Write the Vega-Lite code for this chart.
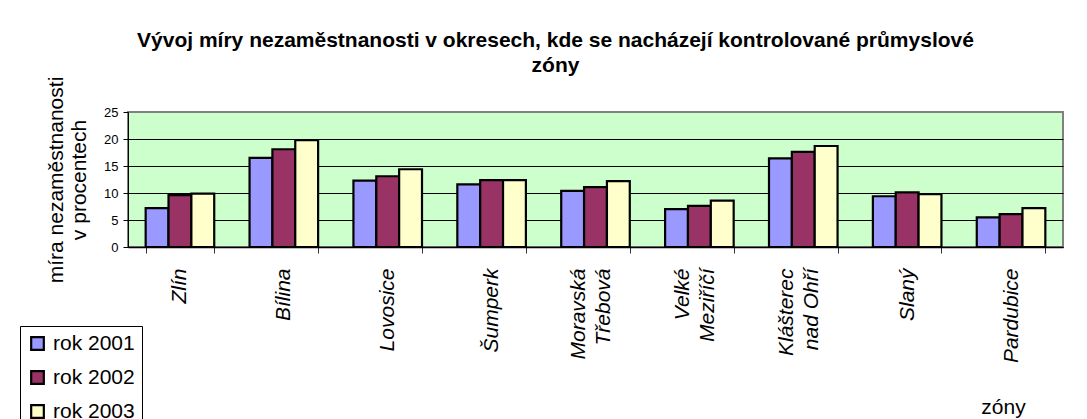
{
  "$schema": "https://vega.github.io/schema/vega-lite/v6.json",
  "autosize": "none",
  "width": 935,
  "height": 135,
  "padding": {"left": 128, "top": 112, "right": 24, "bottom": 172},
  "background": "white",
  "config": {
    "font": "Liberation Sans",
    "view": {"fill": "#CCFFCC", "stroke": "#808080", "strokeWidth": 2}
  },
  "title": {
    "text": ["Vývoj míry nezaměstnanosti v okresech, kde se nacházejí kontrolované průmyslové", "zóny"],
    "font": "Liberation Sans",
    "fontSize": 21,
    "fontWeight": "bold",
    "color": "black",
    "lineHeight": 25,
    "anchor": "middle",
    "dx": -40,
    "offset": 0
  },
  "data": {
    "values": [
      {"zone": "Zlín", "rok": "rok 2001", "value": 7.2},
      {"zone": "Zlín", "rok": "rok 2002", "value": 9.6},
      {"zone": "Zlín", "rok": "rok 2003", "value": 9.9},
      {"zone": "Bílina", "rok": "rok 2001", "value": 16.5},
      {"zone": "Bílina", "rok": "rok 2002", "value": 18.1},
      {"zone": "Bílina", "rok": "rok 2003", "value": 19.8},
      {"zone": "Lovosice", "rok": "rok 2001", "value": 12.3},
      {"zone": "Lovosice", "rok": "rok 2002", "value": 13.1},
      {"zone": "Lovosice", "rok": "rok 2003", "value": 14.4},
      {"zone": "Šumperk", "rok": "rok 2001", "value": 11.6},
      {"zone": "Šumperk", "rok": "rok 2002", "value": 12.4},
      {"zone": "Šumperk", "rok": "rok 2003", "value": 12.4},
      {"zone": "Moravská Třebová", "rok": "rok 2001", "value": 10.4},
      {"zone": "Moravská Třebová", "rok": "rok 2002", "value": 11.1},
      {"zone": "Moravská Třebová", "rok": "rok 2003", "value": 12.2},
      {"zone": "Velké Meziříčí", "rok": "rok 2001", "value": 7.0},
      {"zone": "Velké Meziříčí", "rok": "rok 2002", "value": 7.6},
      {"zone": "Velké Meziříčí", "rok": "rok 2003", "value": 8.6},
      {"zone": "Klášterec nad Ohří", "rok": "rok 2001", "value": 16.4},
      {"zone": "Klášterec nad Ohří", "rok": "rok 2002", "value": 17.6},
      {"zone": "Klášterec nad Ohří", "rok": "rok 2003", "value": 18.7},
      {"zone": "Slaný", "rok": "rok 2001", "value": 9.4},
      {"zone": "Slaný", "rok": "rok 2002", "value": 10.1},
      {"zone": "Slaný", "rok": "rok 2003", "value": 9.8},
      {"zone": "Pardubice", "rok": "rok 2001", "value": 5.5},
      {"zone": "Pardubice", "rok": "rok 2002", "value": 6.1},
      {"zone": "Pardubice", "rok": "rok 2003", "value": 7.2}
    ]
  },
  "mark": {"type": "bar", "stroke": "black", "strokeWidth": 2.2},
  "encoding": {
    "x": {
      "field": "zone",
      "type": "nominal",
      "sort": null,
      "scale": {"paddingInner": 0.34, "paddingOuter": 0.17},
      "axis": {
        "title": "zóny",
        "titleFontSize": 21,
        "titleFontWeight": "normal",
        "titleColor": "black",
        "titleX": 875,
        "titleY": 160,
        "titleAlign": "center",
        "titleBaseline": "middle",
        "labelAngle": -90,
        "labelFontSize": 21,
        "labelFontStyle": "italic",
        "labelColor": "black",
        "labelPadding": 15,
        "labelLineHeight": 25,
        "labelOverlap": false,
        "labelBound": false,
        "labelLimit": 300,
        "labelOffset": {"condition": {"test": "indexof(datum.label, ' ') >= 0", "value": -17}, "value": 0},
        "labelExpr": "datum.label == 'Klášterec nad Ohří' ? ['Klášterec', 'nad Ohří'] : split(datum.label, ' ')",
        "tickBand": "extent",
        "tickSize": 6,
        "tickColor": "#333333",
        "domainColor": "black",
        "domainWidth": 1.5
      }
    },
    "xOffset": {"field": "rok", "type": "nominal", "scale": {"paddingInner": 0, "paddingOuter": 0}},
    "y": {
      "field": "value",
      "type": "quantitative",
      "scale": {"domain": [0, 25]},
      "axis": {
        "values": [0, 5, 10, 15, 20, 25],
        "title": ["míra nezaměstnanosti", "v procentech"],
        "titleFontSize": 21,
        "titleFontWeight": "normal",
        "titleColor": "black",
        "titleLineHeight": 23,
        "titlePadding": 14,
        "labelFontSize": 13,
        "labelColor": "black",
        "labelPadding": 5,
        "tickSize": 5,
        "tickColor": "black",
        "domainColor": "black",
        "gridColor": {"condition": {"test": "datum.value === 25", "value": "#808080"}, "value": "black"},
        "gridWidth": 1
      }
    },
    "color": {
      "field": "rok",
      "type": "nominal",
      "scale": {"domain": ["rok 2001", "rok 2002", "rok 2003"], "range": ["#9999FF", "#993366", "#FFFFCC"]},
      "legend": {
        "orient": "none",
        "legendX": -108,
        "legendY": 214,
        "title": null,
        "strokeColor": "black",
        "fillColor": "white",
        "padding": 7,
        "labelFontSize": 21,
        "labelColor": "black",
        "labelOffset": 5,
        "symbolType": "square",
        "symbolSize": 160,
        "symbolStrokeColor": "black",
        "symbolStrokeWidth": 2.2,
        "symbolOpacity": 1,
        "rowPadding": 11
      }
    }
  }
}
